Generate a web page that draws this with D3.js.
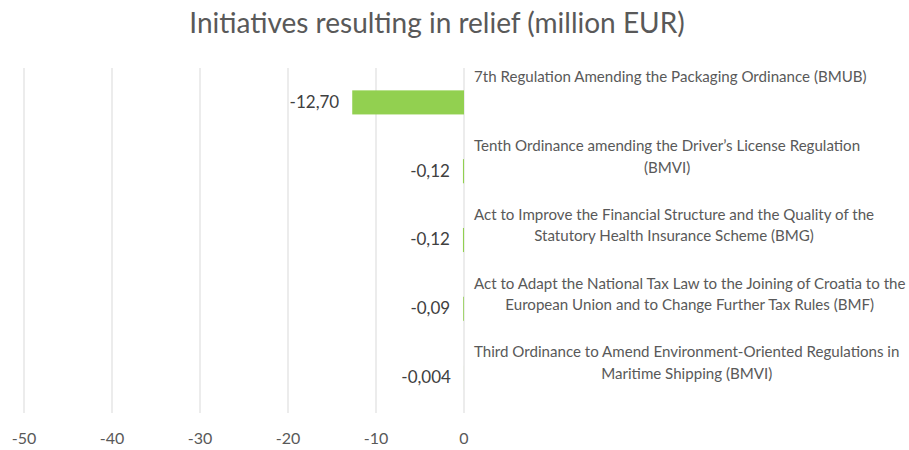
<!DOCTYPE html>
<html>
<head>
<meta charset="utf-8">
<script src="https://cdn.jsdelivr.net/npm/d3@7"></script>
<style>
  body { margin: 0; background: #fff; }
  text { font-family: Lato, "Open Sans", sans-serif; }
</style>
</head>
<body>
<div id="graph"></div>
<script>
// data
var categories = [
  ['7th Regulation Amending the Packaging Ordinance (BMUB)'],
  ['Tenth Ordinance amending the Driver\u2019s License Regulation', '(BMVI)'],
  ['Act to Improve the Financial Structure and the Quality of the', 'Statutory Health Insurance Scheme (BMG)'],
  ['Act to Adapt the National Tax Law to the Joining of Croatia to the', 'European Union and to Change Further Tax Rules (BMF)'],
  ['Third Ordinance to Amend Environment-Oriented Regulations in', 'Maritime Shipping (BMVI)']
]
var values = [-12.70, -0.12, -0.12, -0.09, -0.004]
var valueLabels = ['-12,70', '-0,12', '-0,12', '-0,09', '-0,004']
var xTicks = [-50, -40, -30, -20, -10, 0]

var width = 909, height = 450
var labelSize = '15.1px'

var svg = d3.select('#graph').append('svg')
  .attr('width', width).attr('height', height)

var x = d3.scaleLinear().domain([-50, 0]).range([24, 464])
var y = d3.scaleBand()
  .domain(d3.range(categories.length))
  .range([68, 412])
  .paddingInner(0.65)
  .paddingOuter(0.325)

svg.append('text')
  .attr('x', 437).attr('y', 26)
  .attr('text-anchor', 'middle').attr('dominant-baseline', 'middle')
  .style('font-size', '28px').style('fill', '#595959')
  .text('Initiatives resulting in relief (million EUR)')

// gridlines
svg.append('g').selectAll('line').data(xTicks).join('line')
  .attr('x1', d => x(d)).attr('x2', d => x(d))
  .attr('y1', 68).attr('y2', 413)
  .attr('stroke', '#d9d9d9').attr('stroke-width', 1)

// tick labels
svg.append('g').selectAll('text').data(xTicks).join('text')
  .attr('x', d => x(d)).attr('y', 440)
  .attr('text-anchor', 'middle').attr('dominant-baseline', 'middle')
  .style('font-size', '16px').style('fill', '#595959')
  .text(d => d)

var rows = svg.append('g').selectAll('g').data(values).join('g')

rows.append('rect')
  .attr('x', d => x(d))
  .attr('y', (d, i) => y(i))
  .attr('width', d => x(0) - x(d))
  .attr('height', y.bandwidth())
  .attr('fill', '#92d050')

rows.append('text')
  .attr('x', d => x(d) - 13)
  .attr('y', (d, i) => y(i) + y.bandwidth() / 2 + 1)
  .attr('text-anchor', 'end').attr('dominant-baseline', 'middle')
  .style('font-size', '17px').style('fill', '#404040')
  .text((d, i) => valueLabels[i])

// category labels: lines centred in a block that starts right of zero
var labelLeft = 474
var labels = svg.append('g').selectAll('text').data(categories).join('text')
  .style('font-size', labelSize).style('fill', '#595959')
  .attr('text-anchor', 'middle')

labels.each(function(lines, i){
  var sel = d3.select(this)
  var widths = lines.map(function(l){
    var t = svg.append('text').style('font-size', labelSize).text(l)
    var w = t.node().getComputedTextLength()
    t.remove()
    return w
  })
  var cx = labelLeft + d3.max(widths) / 2
  var top = y(i) + y.bandwidth() / 2 - 24
  sel.selectAll('tspan').data(lines).join('tspan')
    .attr('x', cx)
    .attr('y', (l, j) => top + j * 21.5)
    .attr('dominant-baseline', 'middle')
    .text(l => l)
})
</script>
</body>
</html>
